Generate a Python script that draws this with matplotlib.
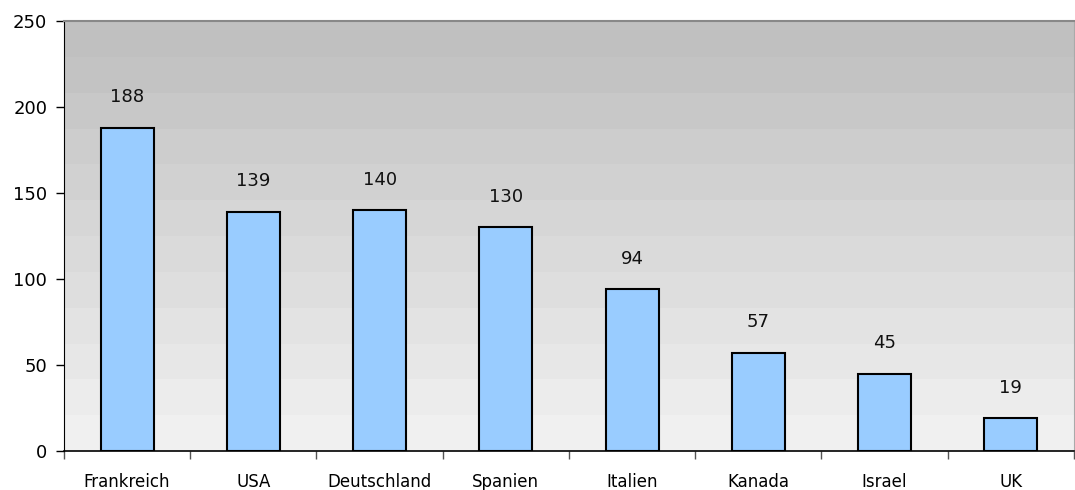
import numpy as np
import matplotlib.pyplot as plt

countries = ["Frankreich", "USA", "Deutschland", "Spanien", "Italien", "Kanada", "Israel", "UK"]
values = [188, 139, 140, 130, 94, 57, 45, 19]

fig = plt.figure(figsize=(10.75, 4.9), dpi=100)
ax = fig.add_axes([0.0595, 0.0796, 0.9395, 0.8774])

x = np.arange(len(countries))
ax.set_xlim(-0.5, len(countries) - 0.5)
ax.set_ylim(0, 250)

# banded grey gradient behind the bars
grad = np.linspace(0.94, 0.75, 12).reshape(-1, 1)
ax.imshow(grad, cmap="gray", vmin=0, vmax=1, aspect="auto",
          extent=[-0.5, len(countries) - 0.5, 0, 250], origin="lower",
          interpolation="nearest", zorder=0)

bars = ax.bar(x, values, width=0.42, color="#99ccff", edgecolor="black",
              linewidth=1.5, zorder=2)

for xi, v in zip(x, values):
    ax.annotate(str(v), (xi, v), xytext=(0, 22), textcoords="offset points",
                ha="center", va="center", fontsize=13, color="#111111")

ax.set_yticks(range(0, 251, 50))
ax.tick_params(axis="y", labelsize=13, length=6, width=1, pad=6)

ax.set_xticks(x)
ax.set_xticklabels(countries, fontsize=12)
ax.set_xticks(np.arange(-0.5, len(countries)), minor=True)
ax.tick_params(axis="x", which="major", length=0, pad=16)
ax.tick_params(axis="x", which="minor", length=6, width=1, color="#555555")

ax.spines["left"].set_color("black")
ax.spines["bottom"].set_color("black")
ax.spines["bottom"].set_linewidth(1.2)
ax.spines["top"].set_color("#888888")
ax.spines["top"].set_linewidth(1.5)
ax.spines["right"].set_color("#aaaaaa")

fig.savefig("out.png", dpi=100)
